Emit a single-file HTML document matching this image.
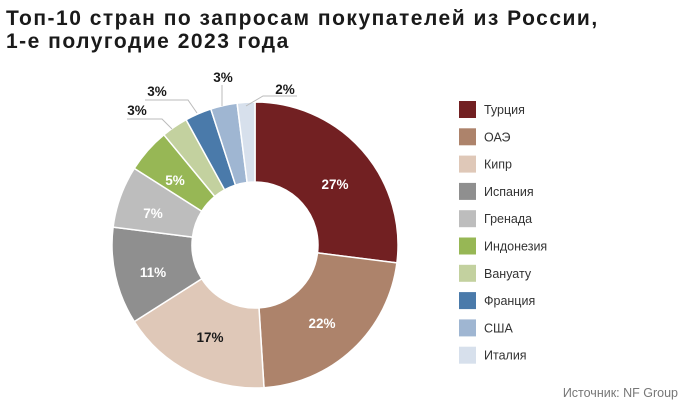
<!DOCTYPE html>
<html><head><meta charset="utf-8"><style>
body{margin:0;width:691px;height:405px;background:#fff;overflow:hidden;font-family:"Liberation Sans","DejaVu Sans",sans-serif}
</style></head><body>
<svg width="691" height="405" viewBox="0 0 691 405" xmlns="http://www.w3.org/2000/svg" font-family="Liberation Sans, DejaVu Sans, sans-serif">
<text x="6" y="25" font-size="21" font-weight="bold" fill="#1a1a1a" letter-spacing="1.5">Топ-10 стран по запросам покупателей из России,</text>
<text x="6" y="48" font-size="21" font-weight="bold" fill="#1a1a1a" letter-spacing="1.5">1-е полугодие 2023 года</text>
<g stroke="#fff" stroke-width="1.5" stroke-linejoin="round">
<path d="M255,102 A143,143 0 0 1 396.9,262.9 L317.5,252.9 A63,63 0 0 0 255,182Z" fill="#722022"/>
<path d="M396.9,262.9 A143,143 0 0 1 264,387.7 L259,307.9 A63,63 0 0 0 317.5,252.9Z" fill="#ad836b"/>
<path d="M264,387.7 A143,143 0 0 1 134.3,321.6 L201.8,278.8 A63,63 0 0 0 259,307.9Z" fill="#dfc8b8"/>
<path d="M134.3,321.6 A143,143 0 0 1 113.1,227.1 L192.5,237.1 A63,63 0 0 0 201.8,278.8Z" fill="#8f8f8f"/>
<path d="M113.1,227.1 A143,143 0 0 1 134.3,168.4 L201.8,211.2 A63,63 0 0 0 192.5,237.1Z" fill="#bdbdbd"/>
<path d="M134.3,168.4 A143,143 0 0 1 163.9,134.8 L214.8,196.5 A63,63 0 0 0 201.8,211.2Z" fill="#97b755"/>
<path d="M163.9,134.8 A143,143 0 0 1 186.1,119.7 L224.6,189.8 A63,63 0 0 0 214.8,196.5Z" fill="#c3d19f"/>
<path d="M186.1,119.7 A143,143 0 0 1 210.8,109 L235.5,185.1 A63,63 0 0 0 224.6,189.8Z" fill="#4a7aaa"/>
<path d="M210.8,109 A143,143 0 0 1 237.1,103.1 L247.1,182.5 A63,63 0 0 0 235.5,185.1Z" fill="#9fb6d2"/>
<path d="M237.1,103.1 A143,143 0 0 1 255,102 L255,182 A63,63 0 0 0 247.1,182.5Z" fill="#d7e0ec"/>
</g>
<g font-size="13.5" font-weight="bold" text-anchor="middle">
<text x="335" y="189" fill="#fff">27%</text>
<text x="322" y="328" fill="#fff">22%</text>
<text x="210" y="342" fill="#1a1a1a">17%</text>
<text x="153" y="277" fill="#fff">11%</text>
<text x="153" y="218" fill="#fff">7%</text>
<text x="175" y="185" fill="#fff">5%</text>
<text x="137" y="115" fill="#1a1a1a">3%</text>
<text x="157" y="96" fill="#1a1a1a">3%</text>
<text x="223" y="82" fill="#1a1a1a">3%</text>
<text x="285" y="94" fill="#1a1a1a">2%</text>
</g>
<g stroke="#bbb" stroke-width="1" fill="none">
<polyline points="127,119 162,119 172,129"/>
<polyline points="145,100 188,100 197,113"/>
<polyline points="222,85 222,106"/>
<polyline points="297,96 263,96 246,106"/>
</g>
<g font-size="12.5" fill="#333">
<rect x="459" y="101" width="17" height="17" fill="#722022"/><text x="484" y="114">Турция</text>
<rect x="459" y="128.3" width="17" height="17" fill="#ad836b"/><text x="484" y="141.3">ОАЭ</text>
<rect x="459" y="155.6" width="17" height="17" fill="#dfc8b8"/><text x="484" y="168.6">Кипр</text>
<rect x="459" y="182.9" width="17" height="17" fill="#8f8f8f"/><text x="484" y="195.9">Испания</text>
<rect x="459" y="210.2" width="17" height="17" fill="#bdbdbd"/><text x="484" y="223.2">Гренада</text>
<rect x="459" y="237.5" width="17" height="17" fill="#97b755"/><text x="484" y="250.5">Индонезия</text>
<rect x="459" y="264.8" width="17" height="17" fill="#c3d19f"/><text x="484" y="277.8">Вануату</text>
<rect x="459" y="292.1" width="17" height="17" fill="#4a7aaa"/><text x="484" y="305.1">Франция</text>
<rect x="459" y="319.4" width="17" height="17" fill="#9fb6d2"/><text x="484" y="332.4">США</text>
<rect x="459" y="346.7" width="17" height="17" fill="#d7e0ec"/><text x="484" y="359.7">Италия</text>
</g>
<text x="678" y="397" font-size="12.5" fill="#777" text-anchor="end">Источник: NF Group</text>
</svg>
</body></html>
